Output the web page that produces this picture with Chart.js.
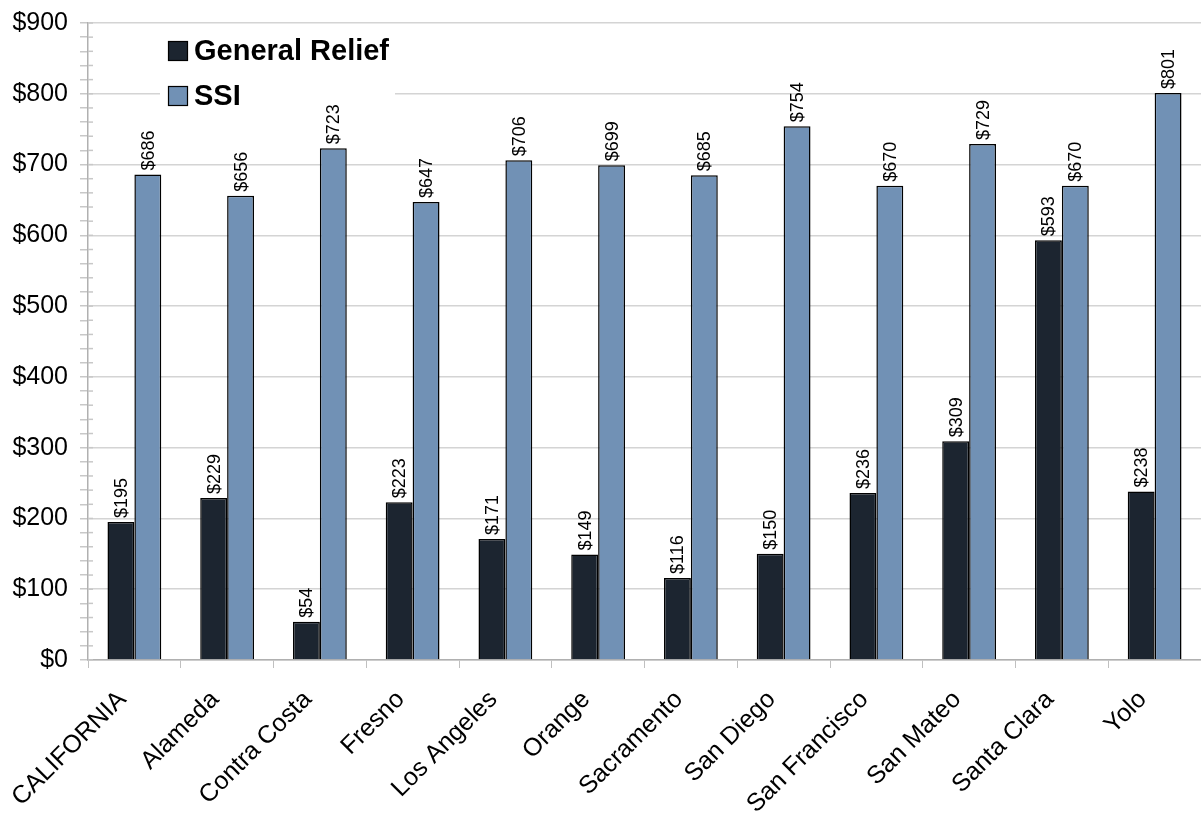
<!DOCTYPE html>
<html><head><meta charset="utf-8">
<script src="https://cdn.jsdelivr.net/npm/chart.js@4"></script>
<style>html,body{margin:0;padding:0;background:#fff;}#wrap{width:1201px;height:819px;}</style>
</head><body><div id="wrap"><canvas id="c" width="1201" height="819"></canvas></div>
<script>
const categories = ["CALIFORNIA","Alameda","Contra Costa","Fresno","Los Angeles","Orange","Sacramento","San Diego","San Francisco","San Mateo","Santa Clara","Yolo"];
const generalRelief = [195,229,54,223,171,149,116,150,236,309,593,238];
const ssi = [686,656,723,647,706,699,685,754,670,729,670,801];
const seriesNames = ["General Relief","SSI"];
const seriesColors = ["#1c2530","#7191b5"];

const FONT = "'Liberation Sans', Arial, sans-serif";

const labelPlugin = {
  id:'valLabels',
  afterDatasetsDraw(chart){
    const ctx = chart.ctx;
    ctx.save();
    ctx.font = "18px " + FONT;
    ctx.fillStyle = "#000";
    ctx.textAlign = "left";
    ctx.textBaseline = "middle";
    chart.data.datasets.forEach((ds,i)=>{
      const meta = chart.getDatasetMeta(i);
      meta.data.forEach((bar,j)=>{
        ctx.save();
        ctx.translate(bar.x + 1, bar.y - 4);
        ctx.rotate(-Math.PI/2);
        ctx.fillText("$" + ds.data[j], 0, 0);
        ctx.restore();
      });
    });
    ctx.restore();
  }
};

const minorTickPlugin = {
  id:'minorTicks',
  afterDraw(chart){
    const y = chart.scales.y, ctx = chart.ctx;
    ctx.save();
    ctx.strokeStyle = "#c8c8c8";
    ctx.lineWidth = 1.5;
    y.ticks.forEach(t=>{
      const py = y.getPixelForValue(t.value);
      ctx.beginPath();
      ctx.moveTo(y.right, py);
      ctx.lineTo(y.right + 5, py);
      ctx.stroke();
    });
    ctx.restore();
  }
};

const legendPlugin = {
  id:'customLegend',
  beforeDatasetsDraw(chart){
    const ctx = chart.ctx;
    ctx.save();
    ctx.fillStyle = "#fff";
    ctx.fillRect(160, 24, 235, 86);
    ctx.font = "bold 29px " + FONT;
    ctx.textBaseline = "middle";
    ctx.textAlign = "left";
    const ys = [51, 96];
    seriesNames.forEach((n,i)=>{
      ctx.fillStyle = seriesColors[i];
      ctx.fillRect(168, ys[i]-10, 20, 20);
      ctx.strokeStyle = "#000";
      ctx.lineWidth = 1.2;
      ctx.strokeRect(168.5, ys[i]-9.5, 19, 19);
      ctx.fillStyle = "#000";
      ctx.fillText(n, 194, ys[i]+1);
    });
    ctx.restore();
  }
};

new Chart(document.getElementById('c'), {
  type:'bar',
  data:{
    labels: categories,
    datasets:[
      {label:seriesNames[0], data:generalRelief, backgroundColor:seriesColors[0], borderColor:"#000", borderWidth:1.5, categoryPercentage:0.58, barPercentage:1},
      {label:seriesNames[1], data:ssi, backgroundColor:seriesColors[1], borderColor:"#000", borderWidth:1.5, categoryPercentage:0.58, barPercentage:1}
    ]
  },
  options:{
    responsive:false,
    animation:false,
    layout:{padding:{top:23,right:0,left:0,bottom:0}},
    plugins:{legend:{display:false}, tooltip:{enabled:false}},
    scales:{
      x:{
        offset:true,
        grid:{display:true, drawOnChartArea:false, drawTicks:true, tickLength:8, color:"#c0c0c0", offset:true},
        border:{color:"#b0b0b0", width:1.5},
        ticks:{color:"#000", font:{family:FONT, size:25}, maxRotation:45, minRotation:45, autoSkip:false, padding:17, labelOffset:-12},
        afterFit(s){ s.height = 159; }
      },
      y:{
        min:0, max:900,
        ticks:{stepSize:20, autoSkip:false, color:"#000", font:{family:FONT, size:25}, padding:12,
          callback:(v)=> (v % 100 === 0) ? "$" + v : ""},
        grid:{
          color:(c)=> (c.tick && c.tick.value % 100 === 0) ? "#d4d4d4" : "rgba(0,0,0,0)",
          tickColor:"#c8c8c8", tickLength:8, lineWidth:1.5
        },
        border:{color:"#b0b0b0", width:1.5},
        afterFit(s){ s.width = 88; s.paddingTop = 0; s.paddingBottom = 0; }
      }
    }
  },
  plugins:[legendPlugin, labelPlugin, minorTickPlugin]
});
</script></body></html>
